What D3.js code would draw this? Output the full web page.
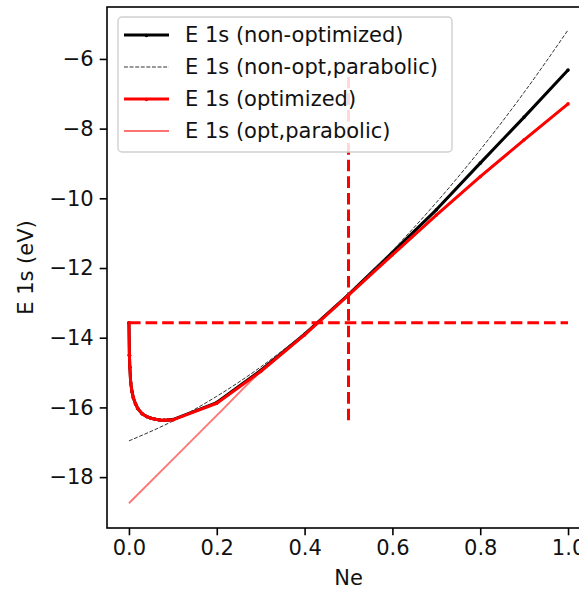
<!DOCTYPE html>
<html>
<head>
<meta charset="utf-8">
<script src="https://cdn.jsdelivr.net/npm/d3@7"></script>
<style>
  html, body { margin: 0; padding: 0; background: #fff; }
  svg { display: block; font-family: "DejaVu Sans", sans-serif; }
</style>
</head>
<body>
<svg id="chart" width="579" height="589"></svg>
<script>
// Electron occupation of the 1s level
const neFine = [0, 0.001, 0.002, 0.004, 0.007, 0.01, 0.015, 0.02, 0.03, 0.04, 0.05, 0.06, 0.07, 0.08, 0.09,
                0.1, 0.2, 0.3, 0.4, 0.5, 0.6, 0.7, 0.8, 0.9, 1.0];
const neCoarse = [0, 0.1, 0.2, 0.3, 0.4, 0.5, 0.6, 0.7, 0.8, 0.9, 1.0];

// 1s eigenvalue (eV), computed without orbital optimization
const e1sNonOpt = [-13.57, -14.5, -14.85, -15.3, -15.55, -15.72, -15.9, -16.03, -16.18, -16.26, -16.31, -16.34, -16.36, -16.37, -16.36,
                   -16.35, -15.86, -14.94, -13.90, -12.76, -11.55, -10.33, -8.99, -7.67, -6.32];
// parabolic fit of the non-optimized values
const e1sNonOptPar = [-16.96, -16.39, -15.68, -14.84, -13.86, -12.75, -11.50, -10.12, -8.61, -6.96, -5.17];

// 1s eigenvalue (eV), with orbital optimization
const e1sOpt = [-13.57, -14.5, -14.85, -15.3, -15.55, -15.72, -15.9, -16.03, -16.18, -16.26, -16.31, -16.34, -16.36, -16.37, -16.36,
                -16.36, -15.88, -14.97, -13.92, -12.78, -11.62, -10.48, -9.38, -8.32, -7.29];
// parabolic fit of the optimized values
const e1sOptPar = [-18.75, -17.49, -16.23, -14.97, -13.90, -12.78, -11.62, -10.48, -9.38, -8.32, -7.29];

// guide lines: E at Ne = 0, and Ne = 0.5
const eAtZero = -13.57;
const neHalf = 0.5;

const xTicks = [0.0, 0.2, 0.4, 0.6, 0.8, 1.0];
const yTicks = [-18, -16, -14, -12, -10, -8, -6];

const legendLabels = ["E 1s (non-optimized)", "E 1s (non-opt,parabolic)", "E 1s (optimized)", "E 1s (opt,parabolic)"];

const svg = d3.select("#chart");
const L = 107, T = 7, R = 590, B = 528;
const FS = 21;
const INK = "#111";

const x = d3.scaleLinear().domain([-0.05, 1.05]).range([L, R]);
const y = d3.scaleLinear().domain([-19.46, -4.51]).range([B, T]);

const plot = svg.append("g");
plot.append("clipPath").attr("id", "clip")
  .append("rect").attr("x", L).attr("y", T).attr("width", R - L).attr("height", B - T);
const g = plot.append("g").attr("clip-path", "url(#clip)");

const line = d3.line().x(d => x(d[0])).y(d => y(d[1]));
const smooth = d3.line().x(d => x(d[0])).y(d => y(d[1])).curve(d3.curveMonotoneX);

const zip = (xs, ys) => xs.map((v, i) => [v, ys[i]]);

// non-optimized
const nonOpt = zip(neFine, e1sNonOpt);
g.append("path").attr("d", line(nonOpt))
  .attr("fill", "none").attr("stroke", "#000").attr("stroke-width", 3).attr("stroke-linejoin", "round");
g.selectAll(".mk0").data(nonOpt).enter().append("circle")
  .attr("cx", d => x(d[0])).attr("cy", d => y(d[1])).attr("r", 1.8).attr("fill", "#000");

// non-optimized parabola
g.append("path").attr("d", smooth(zip(neCoarse, e1sNonOptPar)))
  .attr("fill", "none").attr("stroke", "#333").attr("stroke-width", 1).attr("stroke-dasharray", "3.9,1.7");

// optimized
const opt = zip(neFine, e1sOpt);
g.append("path").attr("d", line(opt))
  .attr("fill", "none").attr("stroke", "#ff0000").attr("stroke-width", 3).attr("stroke-linejoin", "round");
g.selectAll(".mk1").data(opt).enter().append("circle")
  .attr("cx", d => x(d[0])).attr("cy", d => y(d[1])).attr("r", 1.8).attr("fill", "#ff0000");

// optimized parabola
g.append("path").attr("d", smooth(zip(neCoarse, e1sOptPar)))
  .attr("fill", "none").attr("stroke", "#ff0000").attr("stroke-opacity", 0.55).attr("stroke-width", 1.8);

// guide lines
const eMin = d3.min(e1sOpt), eMax = d3.max(e1sNonOpt);
g.append("line")
  .attr("x1", x(0)).attr("x2", x(1)).attr("y1", y(eAtZero)).attr("y2", y(eAtZero))
  .attr("stroke", "#ff0000").attr("stroke-width", 3).attr("stroke-dasharray", "11.6,5");
g.append("line")
  .attr("x1", x(neHalf)).attr("x2", x(neHalf)).attr("y1", y(eMin)).attr("y2", y(eMax))
  .attr("stroke", "#ff0000").attr("stroke-width", 3).attr("stroke-dasharray", "11.6,5");

// axes
const xAxis = d3.axisBottom(x).tickValues(xTicks).tickFormat(d3.format(".1f")).tickSize(7.3).tickPadding(5);
const yAxis = d3.axisLeft(y).tickValues(yTicks).tickFormat(d => d < 0 ? "\u2212" + Math.abs(d) : String(d)).tickSize(7.3).tickPadding(6);

const gx = svg.append("g").attr("transform", `translate(0,${B})`).call(xAxis);
const gy = svg.append("g").attr("transform", `translate(${L},0)`).call(yAxis);
[gx, gy].forEach(a => {
  a.select(".domain").remove();
  a.selectAll(".tick line").attr("stroke", "#000").attr("stroke-width", 1.6);
  a.selectAll(".tick text").attr("font-size", FS).attr("font-family", "DejaVu Sans").attr("fill", INK);
});

// frame
svg.append("rect").attr("x", L).attr("y", T).attr("width", R - L).attr("height", B - T)
  .attr("fill", "none").attr("stroke", "#000").attr("stroke-width", 1.6);

// axis titles
svg.append("text").attr("x", (L + R) / 2).attr("y", 578).attr("text-anchor", "middle")
  .attr("dominant-baseline", "central").attr("font-size", FS).attr("fill", INK).text("Ne");
svg.append("text").attr("transform", `translate(26,${(T + B) / 2}) rotate(-90)`).attr("text-anchor", "middle")
  .attr("dominant-baseline", "central").attr("font-size", FS).attr("fill", INK).text("E 1s (eV)");

// legend
const lg = svg.append("g");
lg.append("rect").attr("x", 118).attr("y", 17).attr("width", 334).attr("height", 135).attr("rx", 4)
  .attr("fill", "#fff").attr("fill-opacity", 0.85).attr("stroke", "#d0d0d0").attr("stroke-width", 1.4);
const styles = [
  { stroke: "#000", w: 3, dash: null, op: 1, mk: "#000" },
  { stroke: "#333", w: 1, dash: "3.9,1.7", op: 1, mk: null },
  { stroke: "#ff0000", w: 3, dash: null, op: 1, mk: "#ff0000" },
  { stroke: "#ff0000", w: 1.8, dash: null, op: 0.55, mk: null }
];
const rowY = [35, 67, 99, 131];
legendLabels.forEach((lab, i) => {
  const s = styles[i];
  const ln = lg.append("line").attr("x1", 124).attr("x2", 169).attr("y1", rowY[i]).attr("y2", rowY[i])
    .attr("stroke", s.stroke).attr("stroke-width", s.w).attr("stroke-opacity", s.op);
  if (s.dash) ln.attr("stroke-dasharray", s.dash);
  if (s.mk) lg.append("circle").attr("cx", 146.5).attr("cy", rowY[i] + 0.5).attr("r", 1.8).attr("fill", s.mk);
  lg.append("text").attr("x", 185).attr("y", rowY[i]).attr("dominant-baseline", "central")
    .attr("font-size", FS).attr("fill", INK).text(lab);
});
</script>
</body>
</html>
